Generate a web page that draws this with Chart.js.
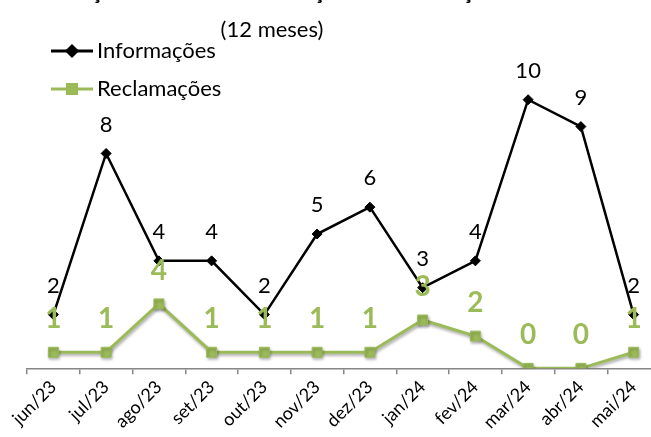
<!DOCTYPE html>
<html>
<head>
<meta charset="utf-8">
<script src="https://cdn.jsdelivr.net/npm/chart.js@4/dist/chart.umd.min.js"></script>
<style>
  html, body { margin: 0; padding: 0; width: 651px; height: 437px; overflow: hidden; background: #fff; }
  #wrap { position: absolute; left: -136px; top: -21px; width: 816px; height: 470px; }
</style>
</head>
<body>
<div id="wrap"><canvas id="c"></canvas></div>
<script>
const titleLine1 = 'Evolução Mensal de Informações e Reclamações';
const titleLine2 = '(12 meses)';
const categories = ['jun/23','jul/23','ago/23','set/23','out/23','nov/23','dez/23','jan/24','fev/24','mar/24','abr/24','mai/24'];
const informacoes = [2, 8, 4, 4, 2, 5, 6, 3, 4, 10, 9, 2];
const reclamacoes = [1, 1, 4, 1, 1, 1, 1, 3, 2, 0, 0, 1];
const seriesNames = ['Informações', 'Reclamações'];

const FONT = 'Lato, "Open Sans", sans-serif';
const BLACK = '#000000';
const GREEN = '#9BBB59';

const titlePlugin = {
  id: 'titlePlugin',
  afterDraw(chart) {
    const ctx = chart.ctx;
    const cx = chart.width / 2;
    ctx.save();
    ctx.fillStyle = BLACK;
    ctx.textAlign = 'center';
    ctx.font = 'bold 22px ' + FONT;
    ctx.textBaseline = 'alphabetic';
    ctx.fillText(titleLine1, cx, 20);
    ctx.font = '22px ' + FONT;
    ctx.textBaseline = 'middle';
    ctx.fillText(titleLine2, cx, 51);
    ctx.restore();
  }
};

const shadowPlugin = {
  id: 'shadowPlugin',
  beforeDatasetDraw(chart, args) {
    if (args.index === 1) {
      const ctx = chart.ctx;
      ctx.save();
      ctx.shadowColor = 'rgba(0,0,0,0.35)';
      ctx.shadowBlur = 3;
      ctx.shadowOffsetX = 1;
      ctx.shadowOffsetY = 2;
    }
  },
  afterDatasetDraw(chart, args) {
    if (args.index === 1) chart.ctx.restore();
  }
};

const labelPlugin = {
  id: 'labelPlugin',
  afterDatasetsDraw(chart) {
    const ctx = chart.ctx;
    const cfg = [
      { font: '22px ' + FONT, color: BLACK, off: 29 },
      { font: 'bold 28px ' + FONT, color: GREEN, off: 33 }
    ];
    chart.data.datasets.forEach((ds, i) => {
      const meta = chart.getDatasetMeta(i);
      ctx.save();
      ctx.font = cfg[i].font;
      ctx.fillStyle = cfg[i].color;
      ctx.textAlign = 'center';
      ctx.textBaseline = 'middle';
      meta.data.forEach((pt, j) => {
        ctx.fillText(String(ds.data[j]), pt.x, pt.y - cfg[i].off);
      });
      ctx.restore();
    });
  }
};

const legendPlugin = {
  id: 'legendPlugin',
  afterDraw(chart) {
    const ctx = chart.ctx;
    const a = chart.chartArea;
    const items = [
      { name: seriesNames[0], color: BLACK, style: 'rectRot', r: 5, lw: 3, dy: 5 },
      { name: seriesNames[1], color: GREEN, style: 'rect', r: 6.5, lw: 3, dy: 43 }
    ];
    items.forEach(it => {
      const x0 = a.left + 24, x1 = a.left + 66, y = a.top + it.dy;
      ctx.save();
      ctx.strokeStyle = it.color;
      ctx.lineWidth = it.lw;
      ctx.beginPath();
      ctx.moveTo(x0, y);
      ctx.lineTo(x1, y);
      ctx.stroke();
      Chart.helpers.drawPoint(ctx, { pointStyle: it.style, radius: it.r, borderWidth: 1, rotation: 0 }, (x0 + x1) / 2, y);
      ctx.fillStyle = it.color;
      ctx.fill();
      ctx.fillStyle = BLACK;
      ctx.font = '22px ' + FONT;
      ctx.textAlign = 'left';
      ctx.textBaseline = 'middle';
      ctx.fillText(it.name, x1 + 4, y);
      ctx.restore();
    });
  }
};

new Chart(document.getElementById('c'), {
  type: 'line',
  data: {
    labels: categories,
    datasets: [
      {
        label: seriesNames[0],
        data: informacoes,
        yAxisID: 'y',
        borderColor: BLACK,
        backgroundColor: BLACK,
        borderWidth: 2.5,
        pointStyle: 'rectRot',
        pointRadius: 5,
        pointBorderWidth: 1,
        tension: 0
      },
      {
        label: seriesNames[1],
        data: reclamacoes,
        yAxisID: 'y1',
        borderColor: GREEN,
        backgroundColor: GREEN,
        borderWidth: 3,
        pointStyle: 'rect',
        pointRadius: 7,
        pointBorderWidth: 1,
        tension: 0
      }
    ]
  },
  options: {
    responsive: true,
    maintainAspectRatio: false,
    animation: false,
    layout: { padding: { left: 163, right: 20, top: 67, bottom: 14 } },
    plugins: {
      legend: { display: false },
      tooltip: { enabled: false },
      title: { display: false },
      subtitle: { display: false }
    },
    scales: {
      x: {
        offset: true,
        grid: { offset: true, drawOnChartArea: false, drawTicks: true, tickLength: 6, tickColor: '#868686', lineWidth: 1.5 },
        border: { color: '#868686', width: 1.5 },
        ticks: { autoSkip: false, maxRotation: 45, minRotation: 45, color: BLACK, padding: 2, font: { family: FONT, size: 18 } }
      },
      y: { display: false, min: 0, max: 12 },
      y1: { display: false, min: 0, max: 20 }
    }
  },
  plugins: [titlePlugin, shadowPlugin, labelPlugin, legendPlugin]
});
</script>
</body>
</html>
